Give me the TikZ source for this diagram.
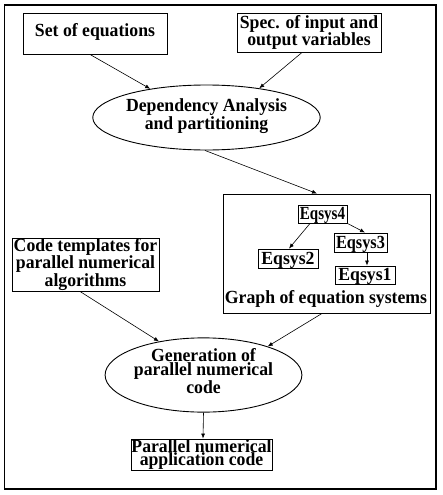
\documentclass[tikz,border=0pt]{standalone}
\usepackage{fontspec}
\usepackage{graphicx}
\setmainfont{Liberation Serif}[FakeStretch=0.957]
\usetikzlibrary{shapes.geometric,arrows.meta}
\newcommand{\lsk}[1]{\fontsize{18.5pt}{#1}\selectfont}
\begin{document}
\begin{tikzpicture}[x=1pt,y=-1pt,
  txt/.style={font=\fontsize{18.5pt}{13.3pt}\selectfont\bfseries, align=center, inner sep=0pt},
  box/.style={txt, draw, line width=0.9pt, rectangle},
  eqbox/.style={box, text depth=0.5pt},
  oval/.style={txt, draw, line width=0.9pt, ellipse},
  arr/.style={line width=0.6pt, -{Latex[length=5pt,width=4pt]}},
  frame/.style={draw, line width=1.5pt}]
\useasboundingbox (0,0) rectangle (443,495);
\draw[frame] (4.5,5) rectangle (436,489);
% top row
\node[box, text depth=7.7pt, minimum width=144pt, minimum height=41pt] (set) at (95,33.5) {Set of equations};
\node[box, font=\lsk{12.8pt}\bfseries, minimum width=144pt, minimum height=39pt] (spec) at (309,32.5) {Spec. of input and\\output variables};
\node[oval, font=\lsk{12.8pt}\bfseries, text height=28pt, minimum width=185pt, minimum height=65pt] (dep) at (206.5,117.5) {Dependency Analysis\\and partitioning};
% graph of equation systems
\node[box, minimum width=207pt, minimum height=119pt] (graph) at (326.5,253.5) {};
\node[txt, anchor=base] (glabel) at (326,303) {Graph of equation systems};
\node[eqbox, minimum width=49pt, minimum height=18pt] (e4) at (322.5,214) {\scalebox{0.85}[1]{Eqsys4}};
\node[eqbox, minimum width=53pt, minimum height=19pt] (e3) at (360.5,242.5) {\scalebox{0.92}[1]{Eqsys3}};
\node[eqbox, minimum width=60pt, minimum height=19pt] (e2) at (288,258.5) {Eqsys2};
\node[eqbox, minimum width=60pt, minimum height=18pt] (e1) at (365,275) {Eqsys1};
% lower part
\node[box, minimum width=147pt, minimum height=53pt] (code) at (85.5,264.5) {Code templates for\\parallel numerical\\algorithms};
\node[oval, font=\lsk{14pt}\bfseries, text depth=7.7pt, minimum width=185pt, minimum height=65pt] (gen) at (203.5,375) {Generation of\\parallel numerical\\code};
\node[box, minimum width=141pt, minimum height=31pt] (par) at (201.5,454.5) {Parallel numerical\\application code};
% connectors
\draw[arr] ([xshift=-5pt]set.south) -- (dep.153.7);
\draw[arr] ([xshift=-7pt]spec.south) -- (dep.29.6);
\draw[arr] ([xshift=-1.5pt]dep.south) -- ([xshift=-9.5pt]graph.north);
\draw[arr] ([xshift=-12.5pt]e4.south) -- ([xshift=1pt]e2.north);
\draw[arr] (e4.south east) -- ([xshift=4.5pt]e3.north);
\draw[arr] ([xshift=6.5pt]e3.south) -- ([xshift=2pt]e1.north);
\draw[arr] ([xshift=-5.5pt]code.south) -- (gen.143);
\draw[arr] ([xshift=-4.5pt]graph.south) -- (gen.24);
\draw[arr] (gen.south) -- ([xshift=1.5pt]par.north);
\end{tikzpicture}
\end{document}
